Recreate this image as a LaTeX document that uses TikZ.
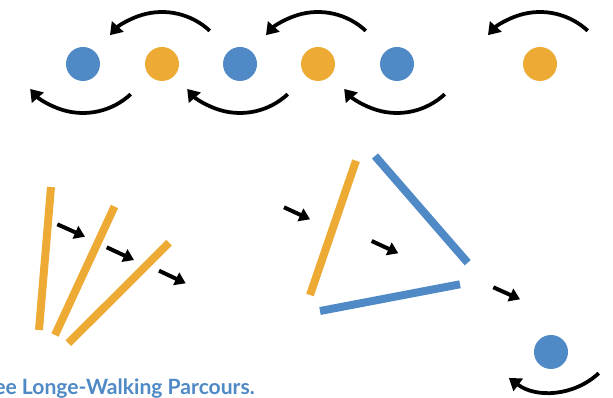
\documentclass[tikz,border=0pt]{standalone}
\usepackage{fontspec}
\setmainfont{Lato}
\usetikzlibrary{arrows.meta}
\definecolor{myblue}{RGB}{79,137,198}
\definecolor{myorange}{RGB}{237,170,52}
\begin{document}
\begin{tikzpicture}[x=0.03cm,y=0.03cm,
  dot/.style={circle,minimum size=1.02cm,inner sep=0pt},
  turn/.style={line width=3.2pt,-{Triangle[length=10pt,width=13pt]}},
  push/.style={line width=3.4pt,-{Triangle[length=9pt,width=11.5pt]}},
  bar/.style={line width=6.8pt}]
\useasboundingbox (0,0) rectangle (613,398);
\clip (0,0) rectangle (613,398);
\node (b1) at (83,334) [dot,fill=myblue]{};
\node (o1) at (162,334) [dot,fill=myorange]{};
\node (b2) at (240,334) [dot,fill=myblue]{};
\node (o2) at (318,334) [dot,fill=myorange]{};
\node (b3) at (397,334) [dot,fill=myblue]{};
\node (o3) at (540,334) [dot,fill=myorange]{};
\node (b4) at (551,46) [dot,fill=myblue]{};
\draw[turn] ([shift={(0,-18)}]o1.center) ++(47:70) arc[start angle=47,end angle=138,radius=70];
\draw[turn] ([shift={(0,-18)}]o2.center) ++(47:70) arc[start angle=47,end angle=138,radius=70];
\draw[turn] ([shift={(0,-18)}]o3.center) ++(47:70) arc[start angle=47,end angle=138,radius=70];
\draw[turn] ([shift={(0,21)}]b1.center) ++(-47:70) arc[start angle=-47,end angle=-139,radius=70];
\draw[turn] ([shift={(0,21)}]b2.center) ++(-47:70) arc[start angle=-47,end angle=-139,radius=70];
\draw[turn] ([shift={(0,21)}]b3.center) ++(-47:70) arc[start angle=-47,end angle=-139,radius=70];
\draw[turn] ([shift={(0,30)}]b4.center) ++(-47:70) arc[start angle=-47,end angle=-127,radius=70];
\draw[bar,color=myorange] (51,211) -- (39,68);
\draw[bar,color=myorange] (114.5,191.5) -- (55,63);
\draw[bar,color=myorange] (169,155.3) -- (68.3,54.7);
\draw[bar,color=myorange] (356,237.3) -- (310,103);
\draw[bar,color=myblue] (375,242) -- (467.7,135.3);
\draw[bar,color=myblue] (320,87) -- (460,113.7);
\draw[push] (57.3,173.7) -- (85,161.3);
\draw[push] (106.7,150.7) -- (134,138);
\draw[push] (159,127.3) -- (185.7,114.7);
\draw[push] (284,190.7) -- (310,178.7);
\draw[push] (371.7,157) -- (398.3,144.7);
\draw[push] (493.3,110.7) -- (520,98.7);
\node (title) at (255,3) [anchor=base east,inner sep=0pt,color=myblue,font=\bfseries\fontsize{18}{21}\selectfont]{ee Longe-Walking Parcours.};
\end{tikzpicture}
\end{document}
